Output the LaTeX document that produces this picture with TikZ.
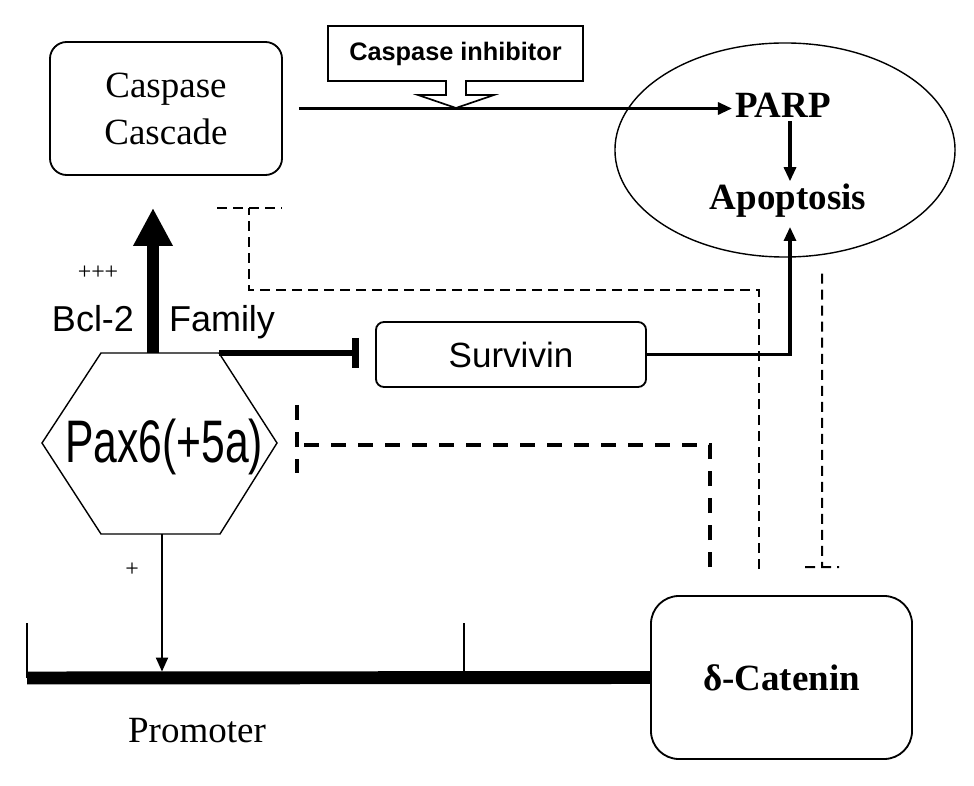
\documentclass[tikz,border=0pt]{standalone}
\usepackage{fontspec}
\usepackage{graphicx}
\setmainfont{Liberation Serif}
\setsansfont{Liberation Sans}
\usetikzlibrary{arrows.meta,shapes.geometric}

\tikzset{
  roundbox/.style={draw, line width=1.3pt, rounded corners=#1, align=center},
  serifbig/.style={font=\fontsize{26.3}{33.4}\selectfont},
  sanslbl/.style={font=\sffamily\fontsize{25.6}{30}\selectfont},
  act/.style={line width=2.2pt, -{Triangle[width=0.3cm,length=0.35cm]}},
  dashthin/.style={line width=1.4pt, dash pattern=on 0.25cm off 0.15cm},
  dashthick/.style={line width=2.8pt, dash pattern=on 0.375cm off 0.3cm}
}

\begin{document}
\begin{tikzpicture}[x=0.025cm, y=-0.025cm]
    \useasboundingbox (0,0) rectangle (974,786);

    % caspase cascade and inhibitor
    \node[roundbox=0.42cm, minimum width=5.8cm, minimum height=3.325cm, serifbig] (casc) at (166,108.5) {Caspase\\Cascade};
    \node[font=\sffamily\bfseries\fontsize{18}{22}\selectfont] (inh) at (455.5,53.5) {Caspase inhibitor};
    \draw[line width=1.2pt] (328,26) -- (583,26) -- (583,81) -- (466,81) -- (466,95) -- (494,95)
        -- (456,108) -- (418,95) -- (446,95) -- (446,81) -- (328,81) -- cycle;

    % apoptosis
    \node[draw, ellipse, line width=1pt, minimum width=8.5cm, minimum height=5.35cm] (cell) at (785,150) {};
    \node[serifbig, anchor=base, inner sep=2pt] (parp) at (783,118) {\bfseries PARP};
    \node[serifbig, anchor=base, inner sep=2pt] (apop) at (788,210) {\bfseries Apoptosis};
    \draw[act] ([xshift=0.4cm]casc.east) -- (parp.west |- casc.east);
    \draw[act] ([xshift=0.175cm]parp.south) -- ([xshift=0.175cm]parp.south |- apop.north);

    % survivin
    \node[roundbox=0.2cm, minimum width=6.75cm, minimum height=1.625cm, font=\sffamily\fontsize{24.9}{30}\selectfont] (surv) at (511,354.5) {Survivin};
    \draw[act, shorten >=0.15cm] (surv.east) -| ([xshift=0.05cm]apop.south);

    % pax6
    \draw[line width=1pt] (42,443) -- (101,353) -- (219,353) -- (277,443) -- (220,534) -- (101,534) -- cycle;
    \node[font=\sffamily\fontsize{42.7}{50}\selectfont, anchor=base] (pax) at (164,463) {\scalebox{0.71}[1]{Pax6(+5a)}};
    \coordinate (paxtop) at (153,353);
    \coordinate (paxne) at (219,353);
    \coordinate (paxbot) at (162,534);
    \draw[line width=8.5pt, -{Triangle[width=0.925cm,length=0.95cm]}, shorten >=0.8cm] (paxtop) -- (paxtop |- casc.south);
    \draw[line width=4.3pt, -{Bar[width=0.75cm,line width=5pt]}, shorten >=0.4cm] (paxne) -- (paxne -| surv.west);
    \node[sanslbl, anchor=base] (bcl) at (93,332) {Bcl-2};
    \node[sanslbl, anchor=base] (fam) at (222,332) {Family};
    \node[font=\fontsize{17}{20}\selectfont] (ppp) at (98,273) {+++};
    \node[font=\fontsize{17}{20}\selectfont] (plus) at (132,570) {+};

    % delta-catenin and promoter
    \node[roundbox=0.7cm, minimum width=6.525cm, minimum height=4.075cm, serifbig] (cat) at (781.5,677.5) {\bfseries δ-Catenin};
    \coordinate (prl) at (27,678);
    \coordinate (prm) at (464,678);
    \draw[line width=9.2pt] (prl) -- (cat.west);
    \draw[line width=1.4pt] (prl) -- ++(0,-55);
    \draw[line width=1.4pt] (prm) -- ++(0,-55);
    \draw[act, line width=1.4pt, shorten >=0.16cm] (paxbot) -- (paxbot |- prl);
    \node[serifbig, anchor=base] (prom) at (197,742) {Promoter};

    % inhibitions
    \coordinate (paxbar) at (297,445);
    \coordinate (cascbar) at (249,208);
    \draw[dashthick] ([xshift=-1.79cm,yshift=0.7cm]cat.north) |- (paxbar) ++(0,-40) -- ++(0,68);
    \draw[dashthin] ([xshift=-0.5625cm,yshift=0.65cm]cat.north) |- (249,290) -- (cascbar) ++(-32,0) -- ++(65,0);
    \draw[dashthin] ([xshift=0.925cm,yshift=-0.4cm]cell.south) -- ([xshift=1.0125cm,yshift=0.7cm]cat.north) ++(-17,0) -- ++(34,0);
\end{tikzpicture}
\end{document}
